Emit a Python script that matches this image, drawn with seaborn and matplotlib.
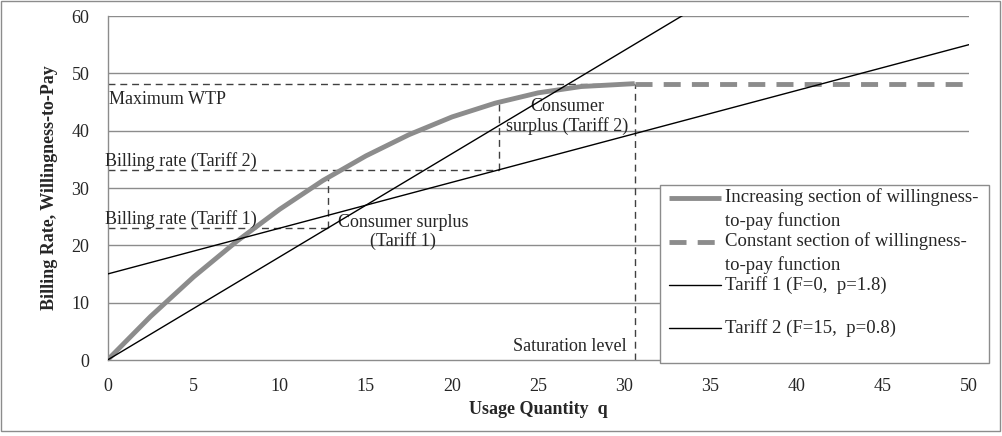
import seaborn as sns
import matplotlib.pyplot as plt
from matplotlib.patches import Rectangle
from matplotlib.lines import Line2D
from matplotlib.legend_handler import HandlerLine2D

# willingness-to-pay curve
wtp_q = [0, 2.5, 5, 7.5, 10, 12.5, 15, 17.5, 20, 22.5, 25, 27.5, 30.6]
wtp_value = [0, 7.6, 14.5, 20.7, 26.3, 31.3, 35.6, 39.3, 42.4, 44.8, 46.6, 47.7, 48.2]

# constant section after saturation
const_q = [30.6, 50]
const_value = [48.2, 48.2]

# tariffs (straight lines)
tariff1_q = [0, 35]
tariff1_value = [0, 63]
tariff2_q = [0, 50]
tariff2_value = [15, 55]

# guide values
q_t1, billing_t1, wtp_t1 = 12.8, 23.1, 32.0
q_t2, billing_t2, wtp_t2 = 22.7, 33.2, 44.7
q_sat, max_wtp = 30.6, 48.2

x_ticks = list(range(0, 51, 5))
y_ticks = list(range(0, 61, 10))

# every legend entry takes two lines, like in the excel chart
labels = ["Increasing section of willingness-\nto-pay function",
          "Constant section of willingness-\nto-pay function",
          "Tariff 1 (F=0,  p=1.8)\n ",
          "Tariff 2 (F=15,  p=0.8)\n "]


class TopLineHandler(HandlerLine2D):
    # put the legend line next to the first text line, and indent it a bit
    def create_artists(self, legend, orig_handle, xdescent, ydescent, width, height, fontsize, trans):
        arts = super().create_artists(legend, orig_handle, xdescent, ydescent, width, height, fontsize, trans)
        for a in arts:
            a.set_ydata([y + 0.61 * fontsize for y in a.get_ydata()])
            xd = list(a.get_xdata())
            xd[0] = xd[0] + 5
            a.set_xdata(xd)
        return arts


sns.set_style("white")
plt.rcParams['font.family'] = ['Liberation Serif', 'DejaVu Serif']
plt.rcParams['font.size'] = 13

gray = '#8c8c8c'
guide = '#404040'

fig = plt.figure(figsize=(10.02, 4.36), dpi=100)
ax = fig.add_axes([0.1073, 0.1743, 0.8597, 0.789])

# horizontal gridlines
for y in y_ticks[1:]:
    ax.axhline(y, color=gray, lw=1, zorder=0)

sns.lineplot(x=wtp_q, y=wtp_value, ax=ax, color=gray, lw=3.5, label=labels[0],
             solid_capstyle='butt', zorder=3)
sns.lineplot(x=const_q, y=const_value, ax=ax, color=gray, lw=3.5, label=labels[1],
             linestyle=(0, (3.5, 2.3)), zorder=3)
sns.lineplot(x=tariff1_q, y=tariff1_value, ax=ax, color='black', lw=1, label=labels[2], zorder=4)
sns.lineplot(x=tariff2_q, y=tariff2_value, ax=ax, color='black', lw=1, label=labels[3], zorder=4)

# dashed guide lines
dash = (0, (5, 3.5))
ax.plot([0, q_t1], [billing_t1, billing_t1], color=guide, lw=1, linestyle=dash)
ax.plot([q_t1, q_t1], [billing_t1, wtp_t1], color=guide, lw=1, linestyle=dash)
ax.plot([0, q_t2], [billing_t2, billing_t2], color=guide, lw=1, linestyle=dash)
ax.plot([q_t2, q_t2], [billing_t2, wtp_t2], color=guide, lw=1, linestyle=dash)
ax.plot([0, q_sat], [max_wtp, max_wtp], color=guide, lw=1, linestyle=dash)
ax.plot([q_sat, q_sat], [0, max_wtp], color=guide, lw=1, linestyle=dash)

# annotations
ax.text(0.1, 45.5, "Maximum WTP", ha='left', va='center')
ax.text(-0.15, billing_t2, "Billing rate (Tariff 2)", ha='left', va='bottom')
ax.text(-0.15, billing_t1, "Billing rate (Tariff 1)", ha='left', va='bottom')
ax.text(17.15, 22.35, "Consumer surplus\n(Tariff 1)", ha='center', va='center', linespacing=1.1)
ax.text(26.7, 42.5, "Consumer\nsurplus (Tariff 2)", ha='center', va='center', linespacing=1.15)
ax.text(30.13, 2.3, "Saturation level", ha='right', va='center')

ax.set_xlim(0, 50)
ax.set_ylim(0, 60)
ax.set_xticks(x_ticks)
ax.set_yticks(y_ticks)
ax.tick_params(axis='both', direction='out', length=5, width=1, color=gray, pad=8, labelsize=13)

for side in ['top', 'right']:
    ax.spines[side].set_visible(False)
for side in ['left', 'bottom']:
    ax.spines[side].set_color(gray)
    ax.spines[side].set_linewidth(1)

ax.set_xlabel("Usage Quantity  q", fontweight='bold', fontsize=13, labelpad=4)
ax.set_ylabel("Billing Rate, Willingness-to-Pay", fontweight='bold', fontsize=13, labelpad=10)

leg = ax.legend(loc='lower left', bbox_to_anchor=(0.641, -0.008, 0.382, 0.502), mode='expand',
                borderaxespad=0, frameon=True, fancybox=False, framealpha=1,
                edgecolor=gray, handlelength=3.1, handletextpad=0.25, borderpad=0.15,
                labelspacing=0.12, fontsize=13.5, handler_map={Line2D: TopLineHandler()})
for t in leg.get_texts():
    t.set_linespacing(1.44)
leg.get_frame().set_linewidth(1)
leg.set_zorder(5)

# outer chart border
fig.patches.append(Rectangle((1 / 1002, 5 / 436), 999 / 1002, 430 / 436, transform=fig.transFigure,
                             fill=False, edgecolor=gray, lw=1))

fig.savefig("out.png", dpi=100)
